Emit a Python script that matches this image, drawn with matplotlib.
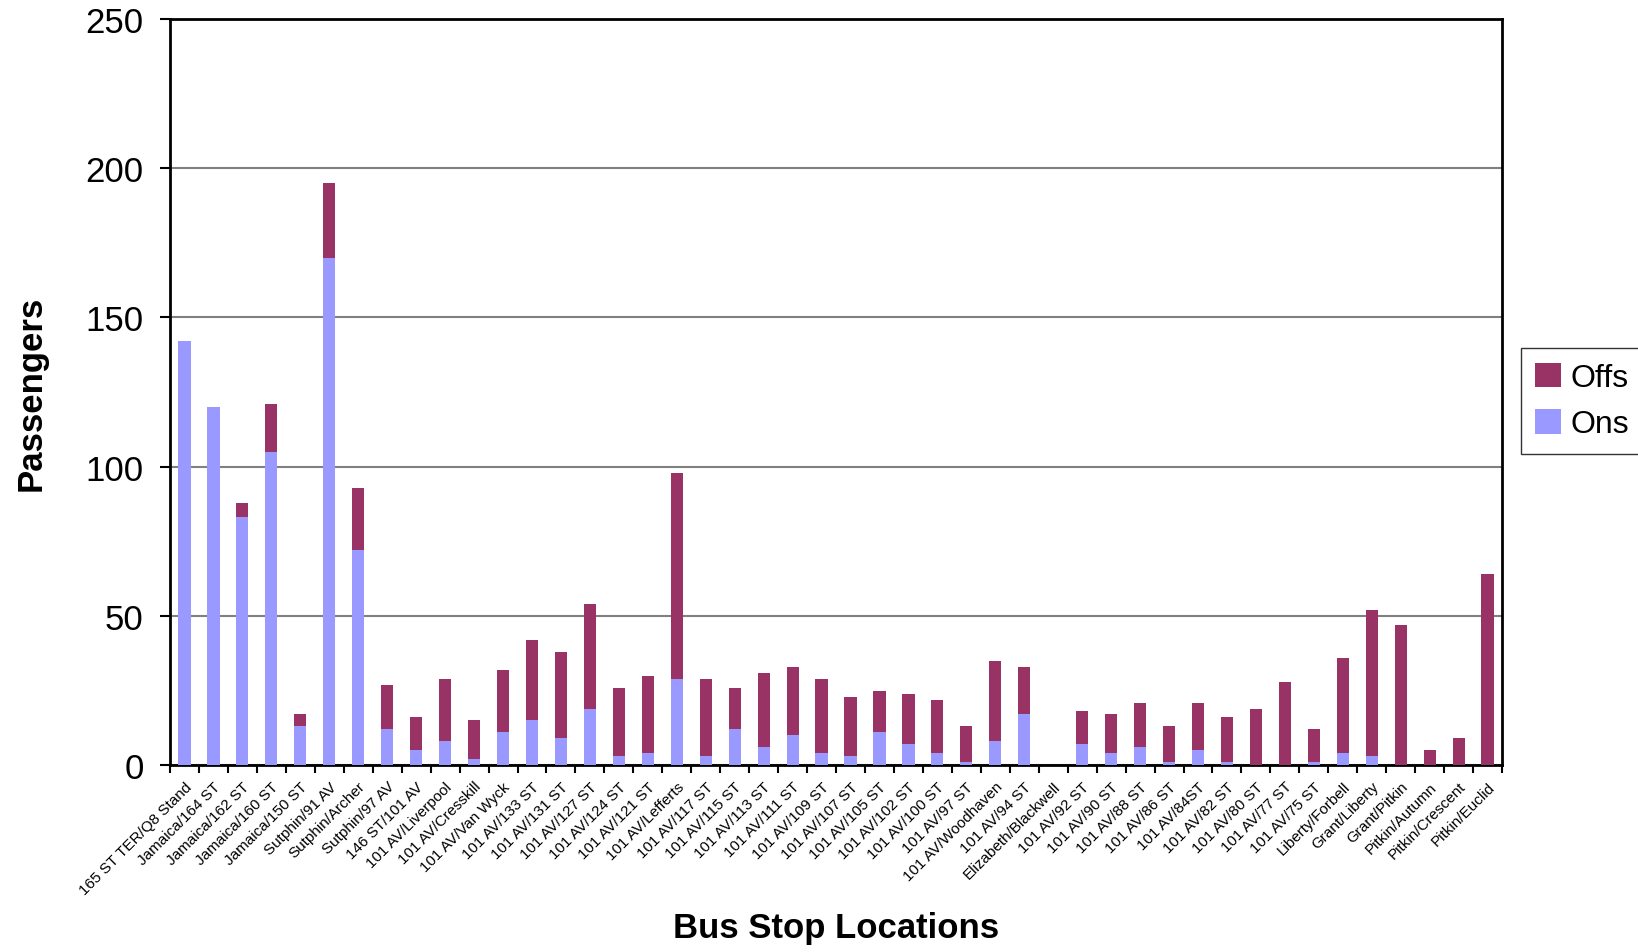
import numpy as np
import matplotlib.pyplot as plt

plt.rcParams['font.family'] = ['Liberation Sans', 'DejaVu Sans']

stops = ['165 ST TER/Q8 Stand', 'Jamaica/164 ST', 'Jamaica/162 ST', 'Jamaica/160 ST',
         'Jamaica/150 ST', 'Sutphin/91 AV', 'Sutphin/Archer', 'Sutphin/97 AV',
         '146 ST/101 AV', '101 AV/Liverpool', '101 AV/Cresskill', '101 AV/Van Wyck',
         '101 AV/133 ST', '101 AV/131 ST', '101 AV/127 ST', '101 AV/124 ST',
         '101 AV/121 ST', '101 AV/Lefferts', '101 AV/117 ST', '101 AV/115 ST',
         '101 AV/113 ST', '101 AV/111 ST', '101 AV/109 ST', '101 AV/107 ST',
         '101 AV/105 ST', '101 AV/102 ST', '101 AV/100 ST', '101 AV/97 ST',
         '101 AV/Woodhaven', '101 AV/94 ST', 'Elizabeth/Blackwell', '101 AV/92 ST',
         '101 AV/90 ST', '101 AV/88 ST', '101 AV/86 ST', '101 AV/84ST',
         '101 AV/82 ST', '101 AV/80 ST', '101 AV/77 ST', '101 AV/75 ST',
         'Liberty/Forbell', 'Grant/Liberty', 'Grant/Pitkin', 'Pitkin/Autumn',
         'Pitkin/Crescent', 'Pitkin/Euclid']

ons = [142, 120, 83, 105, 13, 170, 72, 12, 5, 8, 2, 11, 15, 9, 19, 3,
       4, 29, 3, 12, 6, 10, 4, 3, 11, 7, 4, 1, 8, 17, 0, 7,
       4, 6, 1, 5, 1, 0, 0, 1, 4, 3, 0, 0, 0, 0]

offs = [0, 0, 5, 16, 4, 25, 21, 15, 11, 21, 13, 21, 27, 29, 35, 23,
        26, 69, 26, 14, 25, 23, 25, 20, 14, 17, 18, 12, 27, 16, 0, 11,
        13, 15, 12, 16, 15, 19, 28, 11, 32, 49, 47, 5, 9, 64]

c_offs = '#993366'
c_ons = '#9999FF'

fig = plt.figure(figsize=(16.38, 9.53), dpi=100)
ax = fig.add_axes([0.1038, 0.196, 0.8132, 0.783])

x = np.arange(len(stops))
ax.bar(x, ons, width=0.42, color=c_ons, label='Ons', zorder=3)
ax.bar(x, offs, width=0.42, bottom=ons, color=c_offs, label='Offs', zorder=3)

ax.set_ylim(0, 250)
ax.set_xlim(-0.5, len(stops) - 0.5)
ax.set_yticks(np.arange(0, 251, 50))
ax.tick_params(axis='y', labelsize=25, length=7, width=1.5, direction='out', pad=12)
ax.yaxis.grid(True, color='#808080', linewidth=1.5, zorder=0)

ax.set_xticks(x)
ax.set_xticklabels(stops, rotation=45, ha='right', rotation_mode='anchor', fontsize=11)
ax.tick_params(axis='x', length=0, pad=10)
ax.set_xticks(np.arange(-0.5, len(stops), 1), minor=True)
ax.tick_params(axis='x', which='minor', length=6, width=1.5, direction='out')

for s in ax.spines.values():
    s.set_linewidth(2)
    s.set_color('black')

ax.set_ylabel('Passengers', fontsize=25, fontweight='bold')
ax.yaxis.set_label_coords(-0.092, 0.5)
ax.set_xlabel('Bus Stop Locations', fontsize=25, fontweight='bold')
ax.xaxis.set_label_coords(0.5, -0.195)

handles, labels = ax.get_legend_handles_labels()
leg = fig.legend(handles[::-1], labels[::-1], loc='center left',
                 bbox_to_anchor=(0.9285, 0.578), fontsize=23, frameon=True,
                 fancybox=False, edgecolor='black', handlelength=0.8,
                 handleheight=0.8, handletextpad=0.3, borderpad=0.45,
                 labelspacing=0.5, borderaxespad=0)
leg.get_frame().set_linewidth(1)

plt.savefig('out.png')
